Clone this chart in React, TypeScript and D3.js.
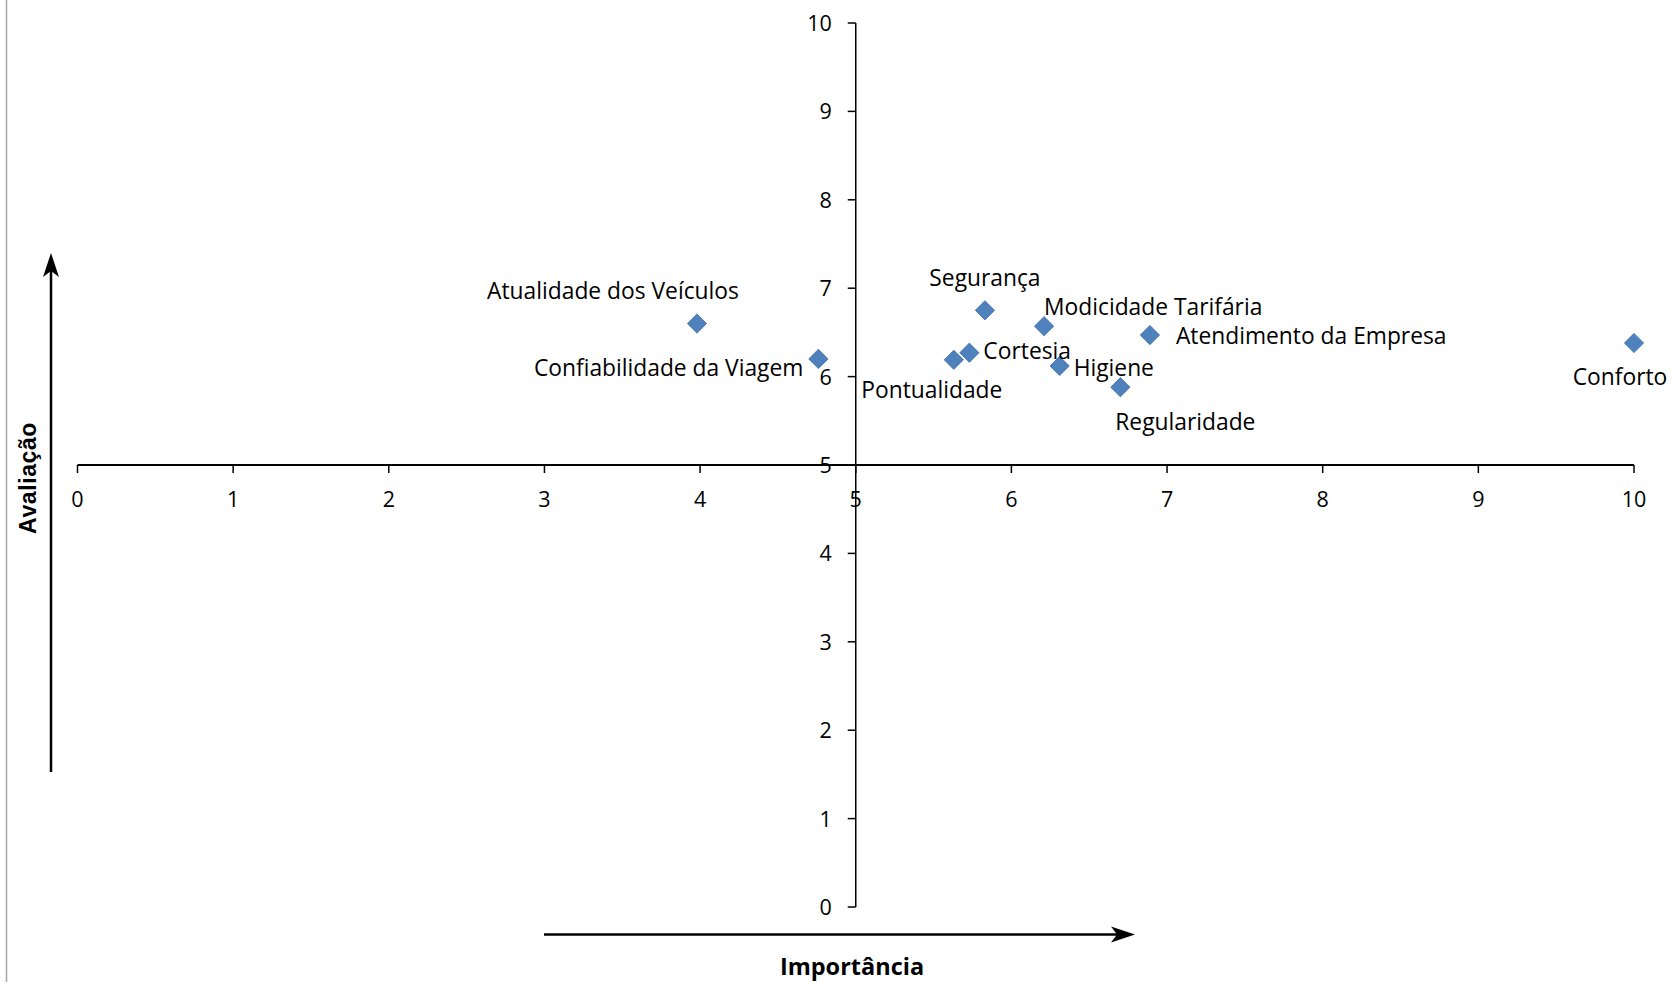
import React from "react";
import * as d3 from "d3";

const categories = [
  "Atualidade dos Veículos",
  "Confiabilidade da Viagem",
  "Segurança",
  "Modicidade Tarifária",
  "Atendimento da Empresa",
  "Cortesia",
  "Pontualidade",
  "Higiene",
  "Regularidade",
  "Conforto",
];
const importancia = [3.98, 4.76, 5.83, 6.21, 6.89, 5.73, 5.63, 6.31, 6.70, 10.0];
const avaliacao = [6.60, 6.20, 6.75, 6.57, 6.47, 6.27, 6.19, 6.12, 5.88, 6.38];
const xTicks = [0, 1, 2, 3, 4, 5, 6, 7, 8, 9, 10];
const yTicks = [0, 1, 2, 3, 4, 5, 6, 7, 8, 9, 10];

// label placement (layout only): anchor, dx, dy relative to marker
const labelPlacement: { anchor: string; dx: number; dy: number }[] = [
  { anchor: "middle", dx: -84, dy: -25 },
  { anchor: "end", dx: -15, dy: 17 },
  { anchor: "middle", dx: 0, dy: -24 },
  { anchor: "start", dx: 0, dy: -11 },
  { anchor: "start", dx: 26, dy: 9 },
  { anchor: "start", dx: 14, dy: 6 },
  { anchor: "middle", dx: -22, dy: 38 },
  { anchor: "start", dx: 14, dy: 10 },
  { anchor: "middle", dx: 65, dy: 43 },
  { anchor: "middle", dx: -14, dy: 42 },
];

const W = 1672;
const H = 982;
const FONT = "'Open Sans', 'DejaVu Sans', sans-serif";

export default function App() {
  const x = d3.scaleLinear().domain([0, 10]).range([77.5, 1634]);
  const y = d3.scaleLinear().domain([0, 10]).range([907, 23]);
  const x0 = x(5);
  const y0 = y(5);
  const diamond = d3.symbol().type(d3.symbolSquare).size(185)() as string;

  const arrowHead = (len: number, half: number, notch: number) =>
    `M0,0 L${-len},${-half} L${-len + notch},0 L${-len},${half} Z`;

  return (
    <svg
      width={W}
      height={H}
      style={{ position: "absolute", left: 0, top: 0, background: "#fff" }}
      fontFamily={FONT}
    >
      <rect x={0} y={0} width={W} height={H} fill="#fff" />
      <line x1={6.5} x2={6.5} y1={0} y2={H} stroke="#a6a6a6" strokeWidth={1.5} />

      {/* X axis through y=5 */}
      <line x1={x(0)} x2={x(10)} y1={y0} y2={y0} stroke="#000" strokeWidth={2} />
      {xTicks.map((t) => (
        <g key={"xt" + t}>
          <line x1={x(t)} x2={x(t)} y1={y0} y2={y0 + 8} stroke="#000" strokeWidth={1.5} />
          <text x={x(t)} y={y0 + 42} textAnchor="middle" fontSize={21.5} fill="#000">
            {t}
          </text>
        </g>
      ))}

      {/* Y axis through x=5 */}
      <line x1={x0} x2={x0} y1={y(0)} y2={y(10)} stroke="#000" strokeWidth={1.5} />
      {yTicks.map((t) => (
        <g key={"yt" + t}>
          <line x1={x0 - 8} x2={x0} y1={y(t)} y2={y(t)} stroke="#000" strokeWidth={1.5} />
          <text x={x0 - 24} y={y(t) + 8} textAnchor="end" fontSize={21.5} fill="#000">
            {t}
          </text>
        </g>
      ))}

      {/* Points */}
      {categories.map((c, i) => (
        <path
          key={"p" + c}
          d={diamond}
          transform={`translate(${x(importancia[i])},${y(avaliacao[i])}) rotate(45)`}
          fill="#4F81BD"
          stroke="#3F6FAA"
          strokeWidth={0.8}
        />
      ))}

      {/* Labels */}
      {categories.map((c, i) => (
        <text
          key={"l" + c}
          x={x(importancia[i]) + labelPlacement[i].dx}
          y={y(avaliacao[i]) + labelPlacement[i].dy}
          textAnchor={labelPlacement[i].anchor as any}
          fontSize={22.8}
          fill="#000"
        >
          {c}
        </text>
      ))}

      {/* Vertical arrow */}
      <line x1={51} x2={51} y1={772} y2={262} stroke="#000" strokeWidth={2.5} />
      <path d={arrowHead(24, 8, 6)} transform="translate(51,253) rotate(-90)" fill="#000" />
      <text
        transform="translate(36,478) rotate(-90)"
        textAnchor="middle"
        fontFamily="'Liberation Sans', Arial, sans-serif"
        fontWeight="bold"
        fontSize={23}
        letterSpacing={0.6}
        fill="#000"
      >
        Avaliação
      </text>

      {/* Horizontal arrow */}
      <line x1={544} x2={1126} y1={934.5} y2={934.5} stroke="#000" strokeWidth={2.5} />
      <path d={arrowHead(24, 8, 6)} transform="translate(1135,934.5)" fill="#000" />
      <text x={852} y={975} textAnchor="middle" fontWeight="bold" fontSize={23.5} fill="#000">
        Importância
      </text>
    </svg>
  );
}
